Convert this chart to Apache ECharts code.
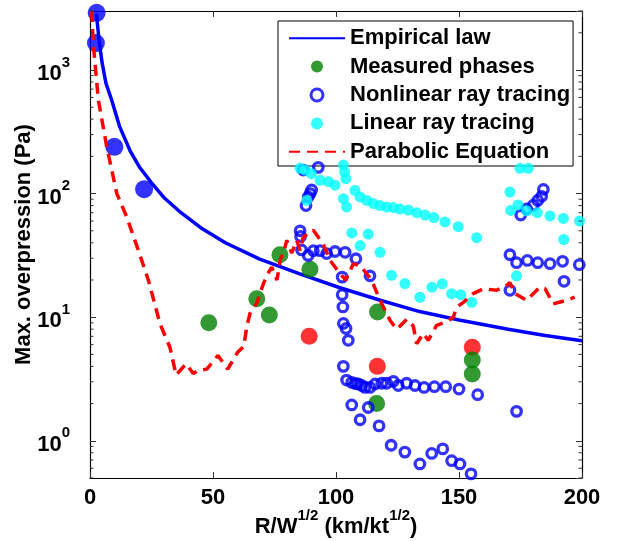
<!DOCTYPE html>
<html>
<head>
<meta charset="utf-8">
<script src="https://cdn.jsdelivr.net/npm/echarts@6/dist/echarts.min.js"></script>
<style>
html,body{margin:0;padding:0;background:#fff;}
#chart{width:626px;height:541px;}
</style>
</head>
<body>
<div id="chart"></div>
<script>
// ---- axis ranges / ticks ----
const xRange = [0, 200];
const xTickInterval = 50;
const yRange = [0.5, 3000];
const yTickExponents = [0, 1, 2, 3];

// ---- Empirical law (solid blue line) ----
const empiricalX = [2.6, 3.8, 5, 6.5, 8.8, 12, 16.3, 20, 25, 30, 37, 45, 55, 69, 85, 101.6, 118, 134, 150, 170, 185, 200];
const empiricalY = [2850, 1650, 1120, 780, 572, 350, 222, 165, 122, 93, 70, 53, 40, 29.5, 22.5, 17.3, 13.7, 11.1, 9.5, 8.0, 7.1, 6.45];

// ---- Near-field filled blue dots (no legend entry) ----
const nearX = [2.7, 2.4, 9.9, 22];
const nearY = [2900, 1650, 239, 108.6];

// ---- Red filled dots (no legend entry) ----
const redX = [89.1, 116.8, 155.4];
const redY = [7.0, 4.0, 5.7];

// ---- Measured phases (green) ----
const measX = [48.3, 67.8, 72.9, 77.2, 89.4, 116.9, 116.5, 155.4, 155.4];
const measY = [9.0, 14.1, 10.4, 32, 24.4, 11, 2.0, 4.5, 3.47];

// ---- Nonlinear ray tracing (hollow blue circles) ----
const nonlinX = [86.7, 92.8, 90.1, 89.5, 88.7, 87.8,
  85.4, 85.6, 86, 88.7, 90.8, 93.5, 96.2, 99.6, 103.7, 108.1,
  113.8, 102.5, 102.5, 102.8, 103, 104.1, 105,
  103, 104.3, 106.4, 108, 109.1, 110.5, 111.8, 113.8, 115.9, 118.6, 120.6, 123.3, 125.3, 128.7, 132.1, 135.8, 140, 144.6, 150, 157.6,
  106.4, 113.1, 109.8, 117.5, 122.4, 128, 134.1, 138.9, 143.4, 147, 150.4, 154.9,
  184.3, 183.6, 182, 180.2, 177.5, 175.1,
  170.7, 173.4, 177.8, 182, 187, 192.1, 198.9, 192.7, 170.7, 173.4];
const nonlinY = [155, 163, 107, 100, 94, 80,
  50, 45, 35, 31.6, 34.5, 34.5, 32.7, 34, 33.5, 29.7,
  21.6, 21.1, 15.2, 12.1, 8.9, 8.1, 6.5,
  4.0, 3.1, 2.97, 2.9, 2.88, 2.8, 2.7, 2.7, 2.88, 2.92, 2.92, 3.03, 2.8, 2.92, 2.8, 2.7, 2.74, 2.74, 2.62, 2.36,
  1.95, 1.86, 1.48, 1.32, 0.92, 0.81, 0.65, 0.79, 0.86, 0.69, 0.65, 0.54,
  108, 95, 88, 80.5, 75, 67,
  32, 27.6, 28.8, 27.6, 27.1, 28.3, 26.6, 19.5, 16.5, 1.73];

// ---- Linear ray tracing (cyan dots) ----
const linX = [85.4, 87.5, 90, 93.5, 96.9, 99.6, 103, 103.5, 104, 107.7, 109.8, 112.5, 115.2, 117.9, 120.6, 123.3, 126, 129.4, 132.8, 136.2, 139.8, 144.3, 149.7, 157.2,
  103, 104.3, 88.1,
  106.4, 113.1, 109.8, 117.9, 122.6, 128, 134.1, 139, 143.2, 147, 150.7, 155.2,
  174.8, 178.2, 170.7, 171, 174, 177.5, 181.8, 187, 192.4, 199, 192.6, 173.4];
const linY = [160, 155, 145, 128, 125, 117, 170, 150, 132, 106, 94, 88, 83, 80, 78, 77, 75, 73.5, 70, 67, 64, 59, 54, 44,
  91, 78, 88,
  48, 47, 38, 33.5, 21.8, 18.7, 14.5, 17.5, 18.6, 15.5, 15.2, 13.2,
  160, 160, 103, 73, 81, 72.5, 70, 66, 63, 60, 42.5, 21.6];

// ---- Parabolic Equation (red dashed line) ----
const peX = [0.7, 1.3, 3.4, 6.8, 10.9, 14.9, 19.6, 23.7, 28.5, 32.5, 35, 39, 42, 44, 47.5, 52, 56, 60, 62.5, 63.7, 65, 67.8, 70.5, 72, 73.9, 76, 77.5, 78.6, 80, 82, 84, 85.4, 86.7, 90.8, 94.8, 97.6, 101.6, 104, 107, 110, 114.5, 117.9, 122, 124.7, 128.7, 131.4, 132.8, 135.5, 137.5, 140.9, 145, 147.7, 149, 151.8, 155.8, 159.9, 165.3, 169.4, 170.7, 172.8, 177.5, 182.9, 185, 188.3, 193.8, 197];
const peY = [3000, 1650, 570, 240, 100, 65, 35, 20, 8.8, 5.7, 3.4, 4.2, 3.5, 3.7, 3.8, 4.9, 3.8, 5.2, 5.8, 8.3, 10.7, 13, 18.7, 22, 25.4, 20, 30, 32.7, 41.9, 33, 41.9, 34.6, 44.5, 50.5, 39, 28.8, 22.5, 20, 27, 26, 19.9, 13.7, 9.4, 8, 9.6, 8.5, 6.1, 7.4, 6.5, 8.6, 9.2, 10, 12, 13.2, 15.5, 17, 16.5, 18.1, 19, 15.5, 13.7, 17.5, 17, 12.8, 13.7, 14.5];

// ---- legend labels ----
const legendNames = ['Empirical law', 'Measured phases', 'Nonlinear ray tracing', 'Linear ray tracing', 'Parabolic Equation'];

// minor tick values for the log axis (2..9 x 10^k)
const minorTickMantissas = [2, 3, 4, 5, 6, 7, 8, 9];

function zip(xs, ys) { return xs.map((x, i) => [x, ys[i]]); }

const FONT = '"Liberation Sans", Arial, Helvetica, sans-serif';
const BLUE = '#0000ff', GREEN = '#008000', RED = '#ff0000', CYAN = '#00ffff';
const NOFILL = 'rgba(0,0,0,0)';

const minorVals = [];
for (let k = -1; k <= 3; k++) {
  minorTickMantissas.forEach(m => {
    const v = m * Math.pow(10, k);
    if (v >= yRange[0] && v <= yRange[1]) minorVals.push([xRange[0], v]);
  });
}

function yLabel(v) {
  const e = Math.log10(v);
  const r = Math.round(e);
  if (Math.abs(e - r) > 1e-6 || yTickExponents.indexOf(r) < 0) return '';
  return '{b|10}{s|' + r + '}';
}

const chart = echarts.init(document.getElementById('chart'), null, { renderer: 'canvas' });

const axisCommon = {
  axisLine: { show: true, onZero: false, lineStyle: { color: '#000', width: 1.2 } },
  axisTick: { show: true, inside: true, length: 6, lineStyle: { color: '#333', width: 1 } },
  splitLine: { show: false },
  minorTick: { show: false },
  minorSplitLine: { show: false }
};

const option = {
  backgroundColor: '#fff',
  animation: false,
  textStyle: { fontFamily: FONT },
  grid: { left: 90, right: 44, top: 11, bottom: 63, containLabel: false, outerBoundsMode: 'none' },
  legend: {
    data: legendNames.map(n => {
      if (n === 'Measured phases') return { name: n, icon: 'circle', itemStyle: { color: GREEN, borderWidth: 0 } };
      if (n === 'Nonlinear ray tracing') return { name: n, icon: 'circle', itemStyle: { color: NOFILL, borderColor: BLUE, borderWidth: 3 } };
      if (n === 'Linear ray tracing') return { name: n, icon: 'circle', itemStyle: { color: CYAN, borderWidth: 0 } };
      return { name: n, itemStyle: { color: NOFILL, borderColor: NOFILL, borderWidth: 0, opacity: 0 } };
    }),
    orient: 'vertical',
    left: 278,
    top: 21,
    padding: [6, 3, 3, 10],
    itemWidth: 56,
    itemHeight: 12,
    itemGap: 6,
    backgroundColor: '#fff',
    borderColor: '#000',
    borderWidth: 1,
    borderRadius: 0,
    selectedMode: false,
    symbolKeepAspect: true,
    textStyle: { fontFamily: FONT, fontWeight: 'bold', fontSize: 22, lineHeight: 22.4, color: '#000' }
  },
  xAxis: [
    Object.assign({}, axisCommon, {
      type: 'value', position: 'bottom', min: xRange[0], max: xRange[1], interval: xTickInterval,
      axisLabel: { show: true, margin: 9, color: '#000', fontFamily: FONT, fontWeight: 'bold', fontSize: 22 },
      name: '{b|R/W}{s|1/2}{b| (km/kt}{s|1/2}{b|)}',
      nameLocation: 'middle',
      nameGap: 30,
      nameMoveOverlap: false,
      nameTextStyle: {
        color: '#000',
        rich: {
          b: { fontFamily: FONT, fontWeight: 'bold', fontSize: 22, color: '#000', lineHeight: 30, verticalAlign: 'bottom' },
          s: { fontFamily: FONT, fontWeight: 'bold', fontSize: 15, color: '#000', lineHeight: 30, verticalAlign: 'top' }
        }
      }
    }),
    Object.assign({}, axisCommon, {
      type: 'value', position: 'top', min: xRange[0], max: xRange[1], interval: xTickInterval,
      axisLabel: { show: false }
    })
  ],
  yAxis: [
    Object.assign({}, axisCommon, {
      type: 'log', logBase: 10, position: 'left', min: yRange[0], max: yRange[1],
      axisLabel: {
        show: true, margin: 20, formatter: yLabel, showMinLabel: false, showMaxLabel: false,
        rich: {
          b: { fontFamily: FONT, fontWeight: 'bold', fontSize: 22, color: '#000', lineHeight: 30, verticalAlign: 'bottom' },
          s: { fontFamily: FONT, fontWeight: 'bold', fontSize: 15, color: '#000', lineHeight: 30, verticalAlign: 'top' }
        }
      },
      name: 'Max. overpression (Pa)',
      nameLocation: 'middle',
      nameGap: 55,
      nameMoveOverlap: false,
      nameTextStyle: { fontFamily: FONT, fontWeight: 'bold', fontSize: 22, color: '#000' }
    }),
    Object.assign({}, axisCommon, {
      type: 'log', logBase: 10, position: 'right', min: yRange[0], max: yRange[1],
      axisLabel: { show: false }
    })
  ],
  series: [
    {
      name: 'Empirical law', type: 'line', xAxisIndex: 0, yAxisIndex: 0,
      data: zip(empiricalX, empiricalY), showSymbol: false, symbol: 'none',
      lineStyle: { color: BLUE, width: 3.5 }, itemStyle: { color: BLUE }, z: 2
    },
    {
      name: 'near', type: 'scatter', data: zip(nearX, nearY), symbolSize: 18,
      itemStyle: { color: BLUE }, z: 3
    },
    {
      name: 'red', type: 'scatter', data: zip(redX, redY), symbolSize: 17,
      itemStyle: { color: RED }, z: 3
    },
    {
      name: 'Measured phases', type: 'scatter', data: zip(measX, measY), symbolSize: 17,
      itemStyle: { color: GREEN }, z: 4
    },
    {
      name: 'Nonlinear ray tracing', type: 'scatter', data: zip(nonlinX, nonlinY), symbolSize: 9.5,
      itemStyle: { color: NOFILL, borderColor: BLUE, borderWidth: 3.3 }, z: 5
    },
    {
      name: 'Linear ray tracing', type: 'scatter', data: zip(linX, linY), symbolSize: 11,
      itemStyle: { color: CYAN }, z: 6
    },
    {
      name: 'Parabolic Equation', type: 'line', data: zip(peX, peY), showSymbol: false, symbol: 'none',
      lineStyle: { color: RED, width: 3.5, type: [11, 7] }, itemStyle: { color: RED }, z: 7
    },
    {
      name: 'minorTicks', type: 'custom', data: minorVals, silent: true, z: 8, clip: false,
      renderItem: function (params, api) {
        const p = api.coord([api.value(0), api.value(1)]);
        const cs = params.coordSys;
        return {
          type: 'group',
          children: [
            { type: 'line', shape: { x1: cs.x, y1: p[1], x2: cs.x + 3.5, y2: p[1] }, style: { stroke: '#333', lineWidth: 1 } },
            { type: 'line', shape: { x1: cs.x + cs.width - 3.5, y1: p[1], x2: cs.x + cs.width, y2: p[1] }, style: { stroke: '#333', lineWidth: 1 } }
          ]
        };
      }
    }
  ]
};

chart.setOption(option);
</script>
</body>
</html>
